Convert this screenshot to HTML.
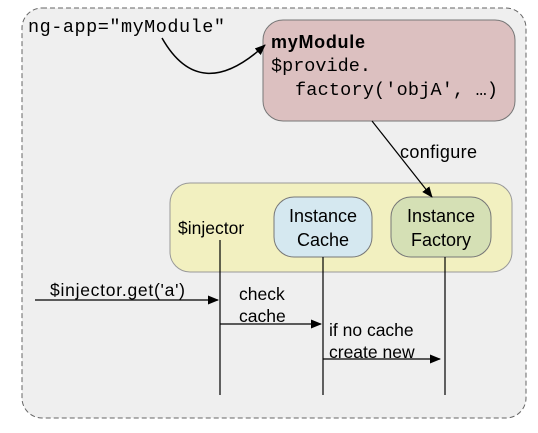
<!DOCTYPE html>
<html><head><style>body{margin:0;background:#fff}</style></head><body>
<svg width="538" height="428" xmlns="http://www.w3.org/2000/svg" font-family="Liberation Sans, sans-serif">
<defs><marker id="a" markerWidth="11" markerHeight="9" refX="10" refY="4.5" orient="auto" markerUnits="userSpaceOnUse"><path d="M0,0L11,4.5L0,9z" fill="#000"/></marker></defs>
<rect x="22" y="8" width="504" height="410" rx="20" fill="#efefef" stroke="#666" stroke-dasharray="5,3"/>
<text x="28" y="32" font-family="Liberation Mono, monospace" font-size="18.5" textLength="197">ng-app="myModule"</text>
<rect x="263" y="20" width="252" height="101" rx="20" fill="#dcc0c0" stroke="#777"/>
<text x="271" y="48" font-size="18" font-weight="bold" textLength="94">myModule</text>
<text x="271" y="71" font-family="Liberation Mono, monospace" font-size="18.5">$provide.</text>
<text x="295" y="95" font-family="Liberation Mono, monospace" font-size="18.5" textLength="203">factory('objA', …)</text>
<path d="M162,38 Q200,105 265,45" fill="none" stroke="#000" stroke-width="1.5" marker-end="url(#a)"/>
<rect x="170" y="183" width="342" height="89" rx="20" fill="#f2f0c0" stroke="#999"/>
<rect x="274" y="197" width="98" height="60" rx="20" fill="#d5e8f0" stroke="#777"/>
<rect x="391" y="197" width="100" height="60" rx="20" fill="#d5e0b5" stroke="#777"/>
<line x1="372" y1="121" x2="432" y2="197" stroke="#000" stroke-width="1.2" marker-end="url(#a)"/>
<text x="400" y="158" font-size="18" textLength="77">configure</text>
<text x="178" y="234" font-size="17.5">$injector</text>
<g font-size="18" text-anchor="middle"><text x="323" y="222">Instance</text><text x="323" y="246">Cache</text>
<text x="441" y="222">Instance</text><text x="441" y="246">Factory</text></g>
<g stroke="#000" stroke-width="1.2"><line x1="220" y1="240" x2="220" y2="395"/><line x1="323" y1="257" x2="323" y2="395"/><line x1="445" y1="257" x2="445" y2="395"/>
<line x1="35" y1="300" x2="218" y2="300" marker-end="url(#a)"/>
<line x1="220" y1="324" x2="321" y2="324" marker-end="url(#a)"/>
<line x1="323" y1="359" x2="440" y2="359" marker-end="url(#a)"/></g>
<g font-size="17.5"><text x="50" y="296" textLength="135">$injector.get('a')</text><text x="239" y="300">check</text><text x="239" y="322">cache</text>
<text x="329" y="336">if no cache</text><text x="329" y="358">create new</text></g>
</svg>
</body></html>
